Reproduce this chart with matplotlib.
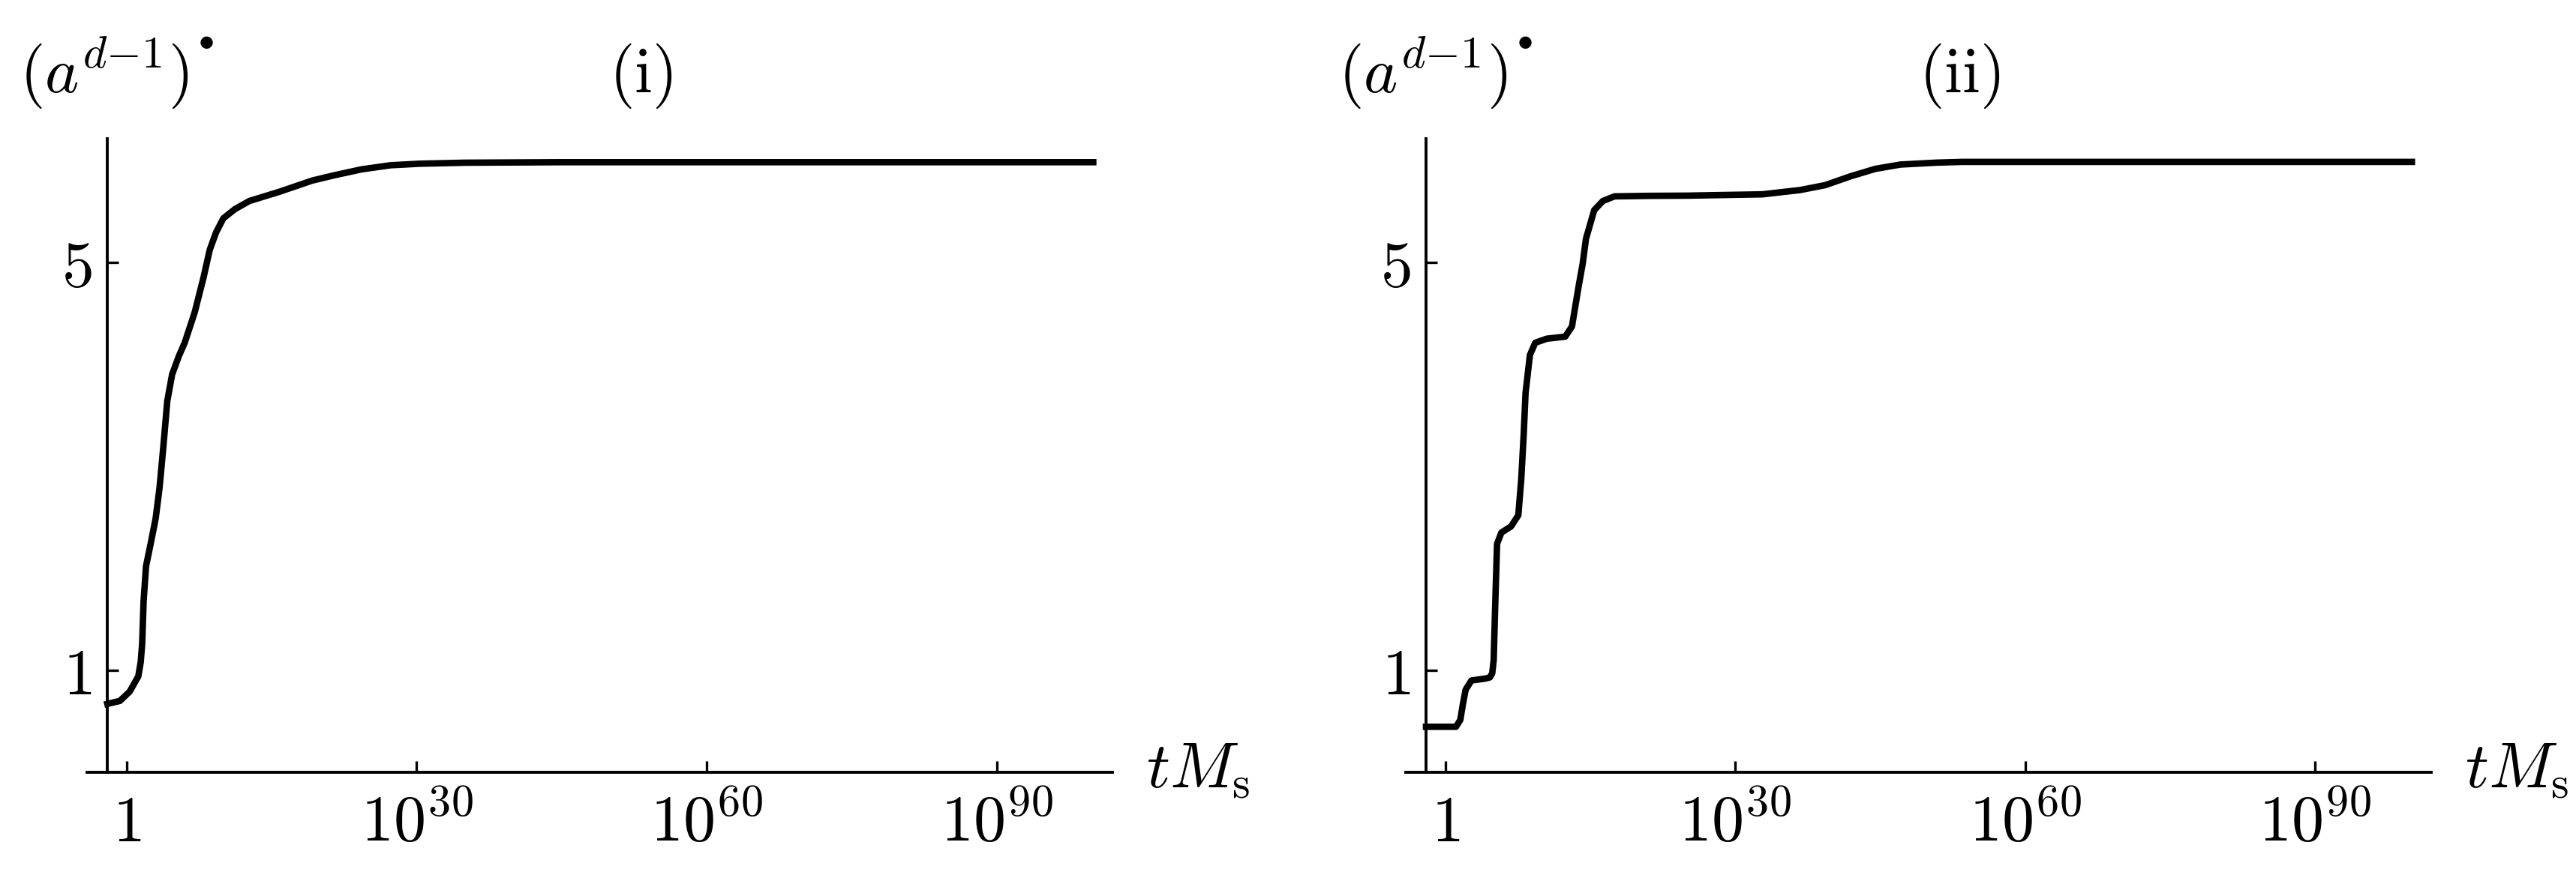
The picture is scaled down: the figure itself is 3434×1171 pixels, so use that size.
import numpy as np
import matplotlib
matplotlib.use('Agg')
import matplotlib.pyplot as plt
from matplotlib.ticker import FixedLocator, NullLocator

plt.rcParams['mathtext.fontset'] = 'cm'

# log10(t M_s) and (a^{d-1})' values
lx_i = [-2.0, -0.7, 0.3, 1.2, 1.45, 1.6, 1.75, 2.0, 2.5, 3.0, 3.4, 3.8, 4.2, 4.7,
        5.4, 6.0, 7.04, 7.95, 8.59, 9.24, 10.0, 11.2, 12.7, 15.8, 19.2, 21.4,
        24.3, 27.3, 30.3, 35.0, 45.0, 100.0]
y_i = [0.67, 0.70, 0.79, 0.94, 1.08, 1.26, 1.68, 2.02, 2.25, 2.49, 2.79, 3.20,
       3.64, 3.90, 4.08, 4.21, 4.51, 4.85, 5.12, 5.29, 5.43, 5.52, 5.60, 5.69,
       5.80, 5.85, 5.91, 5.95, 5.965, 5.975, 5.98, 5.98]

lx_ii = [-2.0, 1.1, 1.55, 1.8, 2.1, 2.7, 4.1, 4.6, 4.85, 5.0, 5.15, 5.35, 5.8,
         6.8, 7.55, 7.85, 8.1, 8.3, 8.75, 9.3, 10.5, 12.4, 13.1, 13.8, 14.2,
         14.55, 15.4, 16.3, 17.5, 21.0, 25.0, 32.8, 36.7, 39.3, 41.9, 44.5,
         47.1, 50.9, 53.5, 100.0]
y_ii = [0.446, 0.446, 0.514, 0.66, 0.81, 0.90, 0.918, 0.93, 0.97, 1.10, 1.61,
        2.24, 2.35, 2.41, 2.52, 2.87, 3.30, 3.72, 4.09, 4.21, 4.25, 4.27, 4.37,
        4.77, 4.98, 5.23, 5.51, 5.60, 5.645, 5.65, 5.652, 5.665, 5.707, 5.755,
        5.841, 5.915, 5.957, 5.976, 5.983, 5.983]

panels = [('(i)', lx_i, y_i), ('(ii)', lx_ii, y_ii)]
xticks = [1.0, 1e30, 1e60, 1e90]
xticklabels = ['$1$', '$10^{30}$', '$10^{60}$', '$10^{90}$']
yticks = [1, 5]
yticklabels = ['$1$', '$5$']

fs = 31
fig = plt.figure(figsize=(17.17, 5.855), dpi=200)
lefts = [0.0338, 0.5457]

for left, (title, lx, y) in zip(lefts, panels):
    ax = fig.add_axes([left, 0.1204, 0.3981, 0.7216])
    ax.plot(10.0 ** np.array(lx), y, color='k', lw=3.1, solid_joinstyle='round')
    ax.set_xscale('log')
    ax.set_xlim(10.0 ** -4.1, 1e102)
    ax.set_ylim(0, 6.21)

    ax.spines['top'].set_visible(False)
    ax.spines['right'].set_visible(False)
    ax.spines['left'].set_position(('data', 1e-2))
    for s in ['left', 'bottom']:
        ax.spines[s].set_linewidth(1.4)

    ax.xaxis.set_major_locator(FixedLocator(xticks))
    ax.xaxis.set_minor_locator(NullLocator())
    ax.set_xticklabels(xticklabels)
    ax.set_yticks(yticks)
    ax.set_yticklabels(yticklabels)
    ax.tick_params(direction='in', length=5.4, width=1.2, labelsize=fs)
    ax.tick_params(axis='x', pad=33)
    ax.tick_params(axis='y', pad=7.5)
    for t in ax.xaxis.get_major_ticks():
        t.label1.set_va('baseline')

    ax.text(-0.0658, 1.0734, r'$(a^{d{-}1})^{^{\bullet}}$', transform=ax.transAxes,
            ha='left', va='baseline', fontsize=fs)
    ax.text(0.540, 1.0734, r'$\mathrm{' + title + '}$', transform=ax.transAxes,
            ha='center', va='baseline', fontsize=fs)
    ax.text(1.033, -0.0237, r'$tM_{\rm s}$', transform=ax.transAxes,
            ha='left', va='baseline', fontsize=fs)

fig.savefig('out.png', dpi=200)
